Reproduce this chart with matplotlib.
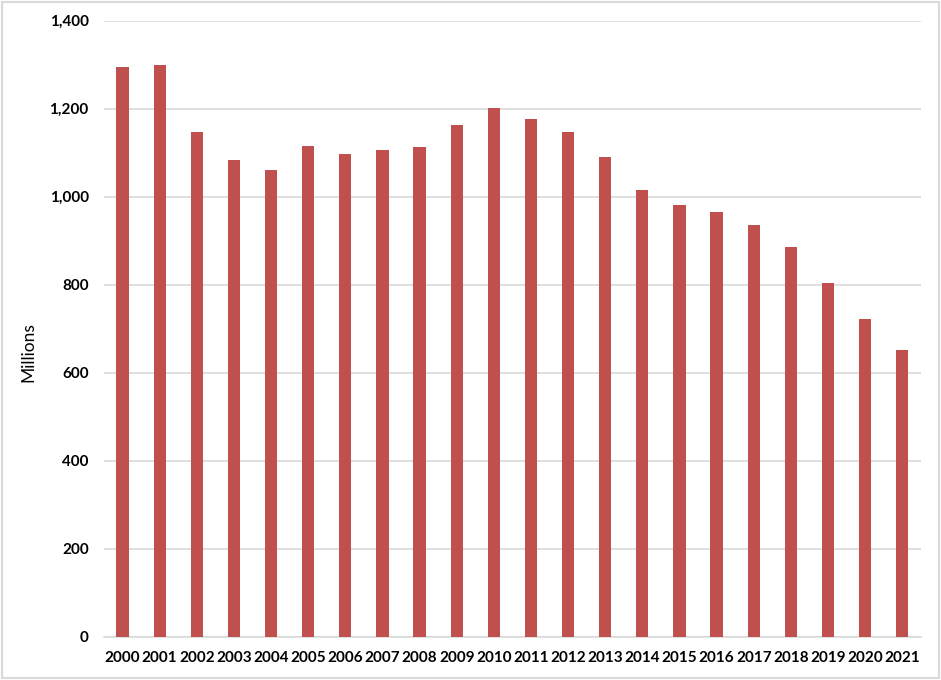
import matplotlib
matplotlib.use("Agg")
import matplotlib.pyplot as plt
from matplotlib.patches import Rectangle
from matplotlib.ticker import FuncFormatter

# Data (millions)
years = [str(y) for y in range(2000, 2022)]
values = [1295, 1299, 1146, 1084, 1060, 1114, 1098, 1106, 1112, 1163,
          1202, 1177, 1147, 1090, 1016, 982, 966, 935, 885, 804, 722, 651]
y_ticks = [0, 200, 400, 600, 800, 1000, 1200, 1400]

plt.rcParams["font.family"] = ["Lato", "DejaVu Sans"]

fig = plt.figure(figsize=(9.41, 6.8), dpi=100)
ax = fig.add_axes([0.1105, 0.0637, 0.868, 0.906])

x = range(len(years))
ax.bar(x, values, width=0.33, color="#C0504D", zorder=3)

ax.set_xlim(-0.5, len(years) - 0.5)
ax.set_ylim(0, 1400)
ax.set_yticks(y_ticks)
ax.yaxis.set_major_formatter(FuncFormatter(lambda v, p: f"{int(v):,}"))
ax.set_xticks(list(x))
ax.set_xticklabels(years)

ax.grid(axis="y", color="#D9D9D9", linewidth=1.2, zorder=0)
for s in ["top", "right", "left"]:
    ax.spines[s].set_visible(False)
ax.spines["bottom"].set_color("#D9D9D9")
ax.spines["bottom"].set_linewidth(1.2)
ax.tick_params(axis="both", length=0, labelsize=11)
ax.tick_params(axis="y", pad=11)
ax.tick_params(axis="x", pad=10)
for lbl in ax.get_xticklabels() + ax.get_yticklabels():
    lbl.set_fontweight("bold")

fig.text(28 / 941, 1 - 352 / 680, "Millions", rotation=90, fontsize=12.5,
         ha="center", va="center")

# chart border
fig.patches.append(Rectangle((0.002, 0.003), 0.996, 0.994, transform=fig.transFigure,
                             fill=False, edgecolor="#D9D9D9", linewidth=1.5))

fig.savefig("out.png", dpi=100)
